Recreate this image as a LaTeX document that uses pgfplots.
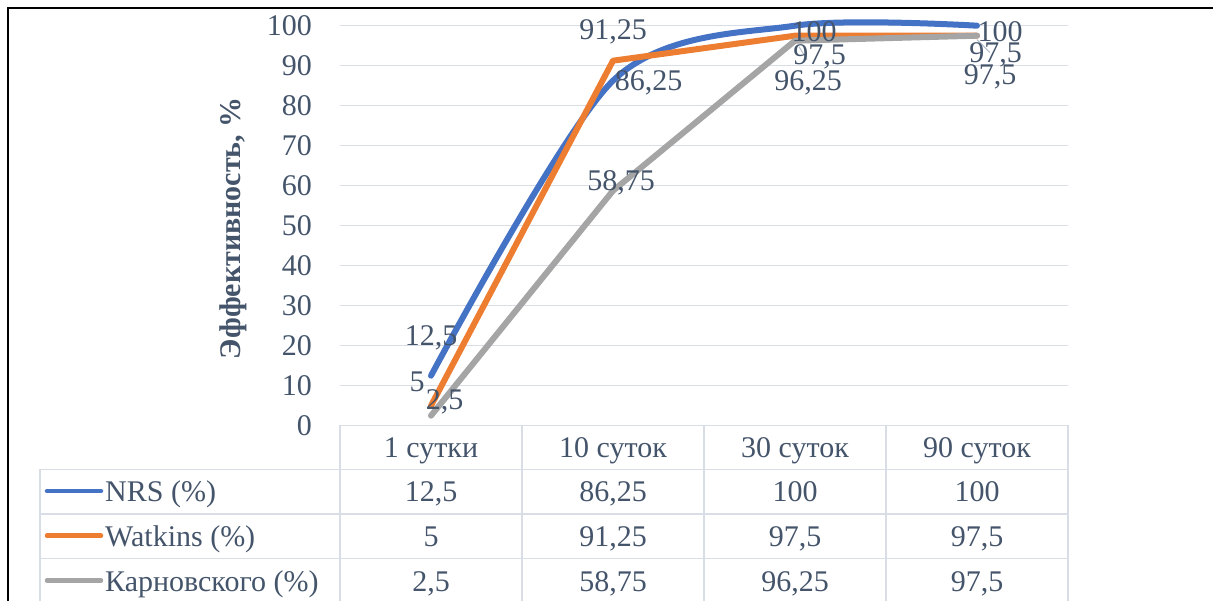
\documentclass[border=0pt]{standalone}
\usepackage{pgfplots}
\pgfplotsset{compat=1.18}
\usepackage{pgfplotstable}
\usepackage{fontspec}
\setmainfont{Liberation Serif}

\definecolor{nrsBlue}{RGB}{68,114,196}
\definecolor{watOrange}{RGB}{237,125,49}
\definecolor{karGray}{RGB}{165,165,165}
\definecolor{txt}{RGB}{68,84,106}
\definecolor{gridc}{RGB}{217,222,230}
\definecolor{leader}{RGB}{180,190,204}

\def\lblfont{\fontsize{30}{34}\selectfont}

% x y label dx dy  (dx, dy = label offset in pt)
\pgfplotstableread{
x y lbl dx dy
1 12.5 12,5 0 37.7
2 86.25 86,25 35.5 -2.3
3 100 100 19 -6.3
4 100 100 23 -6.3
}\nrs
\pgfplotstableread{
x y lbl dx dy
1 5 5 -14 24
2 91.25 91,25 0 29
3 97.5 97,5 24.5 -21.3
4 97.5 97,5 18.5 -19.3
}\wat
\pgfplotstableread{
x y lbl dx dy
1 2.5 2,5 13.7 14
2 58.75 58,75 8 7.7
3 96.25 96,25 13 -42.3
4 97.5 97,5 13 -41
}\kar

\pgfplotsset{
  lbls/.style={draw=none, mark=none, nodes near coords,
    point meta=explicit symbolic,
    visualization depends on={\thisrow{dx}\as\dx},
    visualization depends on={\thisrow{dy}\as\dy},
    every node near coord/.append style={anchor=center, xshift=\dx pt,
      yshift=\dy pt, font=\lblfont, text=txt, inner sep=0pt}},
  serie/.style={line width=6pt, line cap=round, line join=round, mark=none},
}

\begin{document}
\begin{tikzpicture}[x=1pt,y=1pt]
\useasboundingbox (0,0) rectangle (1213,600);
\clip (0,0) rectangle (1213,600);

\begin{axis}[
  at={(340pt,174.3pt)}, anchor=south west, scale only axis,
  width=728pt, height=400pt,
  xmin=0.5, xmax=4.5, ymin=0, ymax=100,
  clip=false,
  axis line style={draw=none},
  xtick=\empty,
  ytick={0,10,...,100},
  major tick length=0pt,
  ymajorgrids, grid style={gridc, line width=1.5pt},
  /pgf/number format/assume math mode=true,
  yticklabel style={font=\lblfont, text=txt, inner sep=0pt, xshift=-28pt},
  ylabel={Эффективность, \%},
  ylabel style={at={(axis description cs:-0.147,0.494)}, anchor=center,
    font=\lblfont\bfseries, text=txt},
]
\addplot[serie, nrsBlue, smooth, tension=0.5] table[x=x,y=y] {\nrs};
\addplot[serie, watOrange] table[x=x,y=y] {\wat};
\addplot[serie, karGray] table[x=x,y=y] {\kar};

\draw[leader, line width=1pt] ([xshift=4pt,yshift=-11pt]axis cs:3,97.5) -- ([xshift=12pt,yshift=-24pt]axis cs:3,97.5);
\draw[leader, line width=1pt] ([xshift=0pt,yshift=-4pt]axis cs:4,97.5) -- ([xshift=13pt,yshift=-17pt]axis cs:4,97.5);

\addplot[lbls] table[x=x,y=y,meta=lbl] {\nrs};
\addplot[lbls] table[x=x,y=y,meta=lbl] {\wat};
\addplot[lbls] table[x=x,y=y,meta=lbl] {\kar};
\end{axis}

% data table under the plot
\begin{scope}[gridc, line width=1.5pt]
  \draw (340,174.5) -- (1068,174.5);
  \draw (40,130.7) -- (1068,130.7);
  \draw (40,86) -- (1068,86);
  \draw (40,41.3) -- (1068,41.3);
  \draw (40,130.7) -- (40,-5);
  \foreach \cx in {340,522,704,886,1068} \draw (\cx,174.5) -- (\cx,-5);
\end{scope}

\begin{scope}[every node/.style={font=\lblfont, text=txt, inner sep=0pt}]
  \node[anchor=base] at (431,142.5) {1 сутки};
  \node[anchor=base] at (613,142.5) {10 суток};
  \node[anchor=base] at (795,142.5) {30 суток};
  \node[anchor=base] at (977,142.5) {90 суток};

  \draw[nrsBlue, line width=4.5pt, line cap=round] (47,109) -- (101,109);
  \draw[watOrange, line width=4.5pt, line cap=round] (47,64.3) -- (101,64.3);
  \draw[karGray, line width=4.5pt, line cap=round] (47,19.6) -- (101,19.6);
  \node[anchor=base west] at (105,98) {NRS (\%)};
  \node[anchor=base west] at (105,53.5) {Watkins (\%)};
  \node[anchor=base west] at (105,9) {Карновского (\%)};

  \node[anchor=base] at (431,98) {12,5};
  \node[anchor=base] at (613,98) {86,25};
  \node[anchor=base] at (795,98) {100};
  \node[anchor=base] at (977,98) {100};
  \node[anchor=base] at (431,53.5) {5};
  \node[anchor=base] at (613,53.5) {91,25};
  \node[anchor=base] at (795,53.5) {97,5};
  \node[anchor=base] at (977,53.5) {97,5};
  \node[anchor=base] at (431,9) {2,5};
  \node[anchor=base] at (613,9) {58,75};
  \node[anchor=base] at (795,9) {96,25};
  \node[anchor=base] at (977,9) {97,5};
\end{scope}

% outer chart frame (right and bottom edges lie outside the crop)
\draw[black, line width=1.8pt] (8.3,-10) -- (8.3,591.7) -- (1230,591.7);
\end{tikzpicture}
\end{document}
